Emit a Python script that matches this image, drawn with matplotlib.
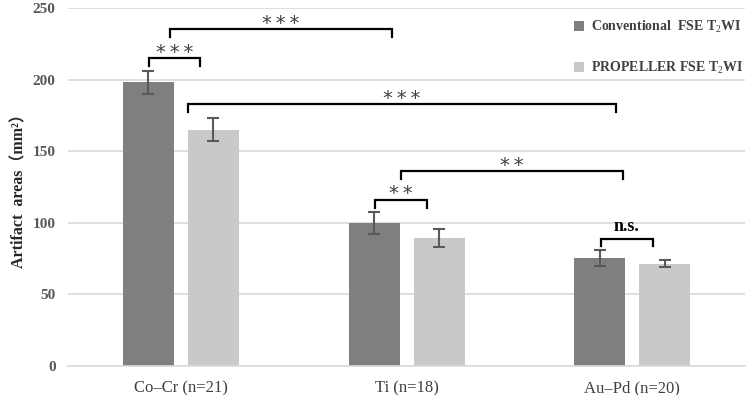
import matplotlib
matplotlib.use("Agg")
import matplotlib.pyplot as plt
import numpy as np

categories = ["Co\u2013Cr (n=21)", "Ti (n=18)", "Au\u2013Pd (n=20)"]
conventional = [198, 100, 75.5]
conventional_err = [8, 7.5, 5.5]
propeller = [165, 89.5, 71.5]
propeller_err = [8, 6.5, 2.5]
series_names = ["Conventional  FSE T$_2$WI", "PROPELLER FSE T$_2$WI"]
yticks = [0, 50, 100, 150, 200, 250]

# significance annotations: (x_left, x_right, y, label)
brackets = [
    (-0.14, 0.085, 215, "***"),
    (-0.05, 0.935, 235, "***"),
    (0.03, 1.93, 183, "***"),
    (0.86, 1.09, 116, "**"),
    (0.975, 1.96, 136, "**"),
    (1.86, 2.09, 89, "n.s."),
]

serif = ["Liberation Serif", "DejaVu Serif"]
plt.rcParams["font.family"] = serif
plt.rcParams["mathtext.fontset"] = "custom"
plt.rcParams["mathtext.rm"] = "Liberation Serif"
plt.rcParams["mathtext.bf"] = "Liberation Serif:bold"

fig = plt.figure(figsize=(7.49, 3.95), dpi=100)
ax = fig.add_axes([0.0908, 0.0734, 0.9039, 0.9063])

x = np.arange(len(categories))
w = 0.226
off = 0.144
dark = "#7f7f7f"
light = "#c9c9c9"
ecol = "#595959"
ax.bar(x - off, conventional, w, color=dark, zorder=2, label=series_names[0])
ax.bar(x + off, propeller, w, color=light, zorder=2, label=series_names[1])
ax.errorbar(x - off, conventional, yerr=conventional_err, fmt="none", ecolor=ecol,
            elinewidth=1.5, capsize=4, capthick=1.5, zorder=3)
ax.errorbar(x + off, propeller, yerr=propeller_err, fmt="none", ecolor=ecol,
            elinewidth=1.5, capsize=4, capthick=1.5, zorder=3)

ax.set_xlim(-0.5, 2.5)
ax.set_ylim(0, 250)
ax.set_yticks(yticks)
ax.yaxis.grid(True, color="#d9d9d9", linewidth=1.2, zorder=0)
ax.set_axisbelow(True)
for s in ["top", "right", "left"]:
    ax.spines[s].set_visible(False)
ax.spines["bottom"].set_color("#d9d9d9")
ax.spines["bottom"].set_linewidth(1.2)
ax.tick_params(axis="both", length=0)
ax.tick_params(axis="y", pad=9)
ax.tick_params(axis="x", pad=10)
ax.set_xticks(x)
ax.set_xticklabels(categories, fontsize=12, color="#404040")
for lab in ax.get_yticklabels():
    lab.set_fontsize(11)
    lab.set_fontweight("bold")
    lab.set_color("#595959")

ax.set_ylabel("Artifact  areas\uff08mm\u00b2\uff09", fontsize=11.5, fontweight="bold",
              family=["Liberation Serif", "Noto Sans CJK SC", "DejaVu Sans"], color="#262626",
              labelpad=4)

tick_h = 5.5
for xl, xr, yb, lab in brackets:
    ax.plot([xl, xl, xr, xr], [yb - tick_h, yb, yb, yb - tick_h], color="black",
            linewidth=1.6, zorder=4, solid_joinstyle="miter")
    if lab == "n.s.":
        ax.text((xl + xr) / 2, yb + 2.5, lab, ha="center", va="bottom", fontsize=13,
                fontweight="bold", color="black")
    else:
        ax.text((xl + xr) / 2, yb - 2.5, "\u2009".join(lab), ha="center", va="bottom",
                fontsize=14, color="#404040", family=["DejaVu Sans"])

leg = ax.legend(loc="upper right", bbox_to_anchor=(1.006, 0.985), frameon=False,
                prop={"family": serif, "weight": "bold", "size": 10},
                handlelength=0.7, handleheight=0.7, handletextpad=0.5, labelspacing=1.75,
                borderaxespad=0.0)
for t in leg.get_texts():
    t.set_color("#404040")

fig.savefig("out.png", dpi=100)
